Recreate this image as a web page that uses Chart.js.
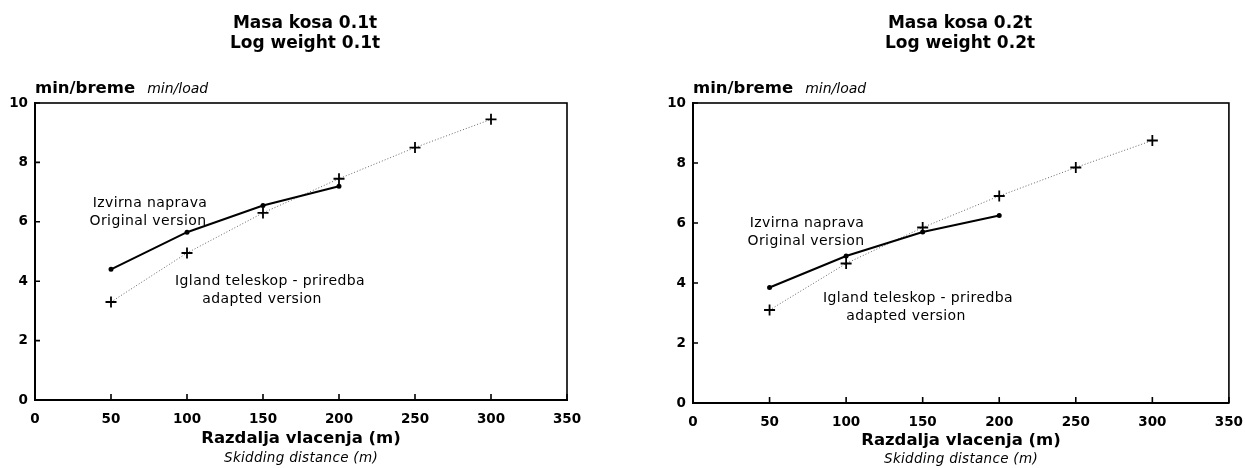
<!DOCTYPE html>
<html lang="sl">
<head>
    <meta charset="UTF-8">
    <title>Masa kosa 0.1t / 0.2t</title>
    <script src="https://cdn.jsdelivr.net/npm/chart.js"></script>
    <style>
        body {
            margin: 0;
            background: #fff;
            font-family: "DejaVu Sans", sans-serif;
            color: #000;
        }
        #page {
            position: relative;
            width: 1245px;
            height: 468px;
            overflow: hidden;
        }
        canvas { position: absolute; top: 0; }
        .t {
            position: absolute;
            white-space: nowrap;
            transform: translate(-50%, -50%);
            line-height: 1;
        }
        .title { font-weight: bold; font-size: 17px; }
        .xt { font-weight: bold; font-size: 16.5px; }
        .xs { font-style: italic; font-size: 13.5px; letter-spacing: 0.3px; }
        .note { font-size: 14px; letter-spacing: 0.4px; }
        .ylab {
            position: absolute;
            white-space: nowrap;
            line-height: 20px;
        }
        .ylab b { font-size: 16.5px; }
        .ylab i { font-size: 14px; margin-left: 12px; }
    </style>
</head>
<body>
<div id="page">
    <canvas id="left" width="620" height="468" style="left:0"></canvas>
    <canvas id="right" width="634" height="468" style="left:620px"></canvas>
</div>
<script>
    // skidding distance (m)
    var distances = [50, 100, 150, 200, 250, 300];

    // min/load, log weight 0.1t
    var original01 = [4.4, 5.65, 6.55, 7.2];
    var adapted01 = [3.3, 4.95, 6.3, 7.45, 8.5, 9.45];

    // min/load, log weight 0.2t
    var original02 = [3.85, 4.9, 5.7, 6.25];
    var adapted02 = [3.1, 4.65, 5.85, 6.9, 7.85, 8.75];

    var xTickStep = 50;
    var yTickStep = 2;

    function pts(vals) {
        return vals.map(function (v, i) { return { x: distances[i], y: v }; });
    }

    // box round the plot and short ticks pointing inwards
    var frame = {
        id: 'frame',
        afterDatasetsDraw: function (chart) {
            var ctx = chart.ctx, a = chart.chartArea;
            var x = chart.scales.x, y = chart.scales.y;
            ctx.save();
            ctx.strokeStyle = '#000';
            ctx.lineWidth = 1.6;
            ctx.strokeRect(a.left, a.top, a.right - a.left, a.bottom - a.top);
            ctx.beginPath();
            x.ticks.forEach(function (t) {
                var px = x.getPixelForValue(t.value);
                ctx.moveTo(px, a.bottom);
                ctx.lineTo(px, a.bottom - 6);
            });
            y.ticks.forEach(function (t) {
                var py = y.getPixelForValue(t.value);
                ctx.moveTo(a.left, py);
                ctx.lineTo(a.left + 5, py);
            });
            ctx.stroke();
            ctx.restore();
        }
    };

    function makeChart(id, original, adapted, pad, xAxisHeight) {
        var tickFont = { family: 'DejaVu Sans', size: 13.5, weight: 'bold' };
        return new Chart(document.getElementById(id), {
            type: 'line',
            data: {
                datasets: [{
                    label: 'Izvirna naprava',
                    data: pts(original),
                    borderColor: '#000',
                    backgroundColor: '#000',
                    borderWidth: 2,
                    pointRadius: 1.5,
                    pointStyle: 'circle',
                    tension: 0
                }, {
                    label: 'Igland teleskop - priredba',
                    data: pts(adapted),
                    borderColor: '#666',
                    borderWidth: 1,
                    borderDash: [1, 2],
                    pointStyle: 'cross',
                    pointRadius: 5.5,
                    pointBorderColor: '#000',
                    pointBorderWidth: 1.8,
                    tension: 0
                }]
            },
            options: {
                responsive: false,
                animation: false,
                layout: { padding: pad },
                plugins: {
                    legend: { display: false },
                    tooltip: { enabled: false }
                },
                scales: {
                    x: {
                        type: 'linear',
                        min: 0,
                        max: 350,
                        grid: { display: false, drawTicks: false },
                        border: { display: true, color: '#000', width: 2 },
                        ticks: { stepSize: xTickStep, color: '#000', font: tickFont, padding: 11, maxRotation: 0 },
                        afterFit: function (s) { s.height = xAxisHeight; }
                    },
                    y: {
                        min: 0,
                        max: 10,
                        grid: { display: false, drawTicks: false },
                        border: { display: true, color: '#000', width: 2 },
                        ticks: { stepSize: yTickStep, color: '#000', font: tickFont, padding: 7 },
                        afterFit: function (s) { s.width = 35; }
                    }
                }
            },
            plugins: [frame]
        });
    }

    makeChart('left', original01, adapted01, { left: 0, top: 103, right: 53, bottom: 0 }, 68);
    makeChart('right', original02, adapted02, { left: 38, top: 103, right: 16, bottom: 0 }, 65);

    // texts round the plots
    var page = document.getElementById('page');
    function addText(cls, txt, cx, cy) {
        var d = document.createElement('div');
        d.className = 't ' + cls;
        d.textContent = txt;
        d.style.left = cx + 'px';
        d.style.top = cy + 'px';
        page.appendChild(d);
    }
    function addYLabel(left) {
        var d = document.createElement('div');
        d.className = 'ylab';
        d.innerHTML = '<b>min/breme</b><i>min/load</i>';
        d.style.left = left + 'px';
        d.style.top = '78px';
        page.appendChild(d);
    }

    addText('title', 'Masa kosa 0.1t', 305, 22);
    addText('title', 'Log weight 0.1t', 305, 42);
    addText('title', 'Masa kosa 0.2t', 960, 22);
    addText('title', 'Log weight 0.2t', 960, 42);

    addYLabel(35);
    addYLabel(693);

    addText('xt', 'Razdalja vlacenja (m)', 301, 438);
    addText('xs', 'Skidding distance (m)', 301, 458);
    addText('xt', 'Razdalja vlacenja (m)', 961, 440);
    addText('xs', 'Skidding distance (m)', 961, 459);

    addText('note', 'Izvirna naprava', 150, 202);
    addText('note', 'Original version', 148, 220);
    addText('note', 'Igland teleskop - priredba', 270, 280);
    addText('note', 'adapted version', 262, 298);

    addText('note', 'Izvirna naprava', 807, 222);
    addText('note', 'Original version', 806, 240);
    addText('note', 'Igland teleskop - priredba', 918, 297);
    addText('note', 'adapted version', 906, 315);
</script>
</body>
</html>
